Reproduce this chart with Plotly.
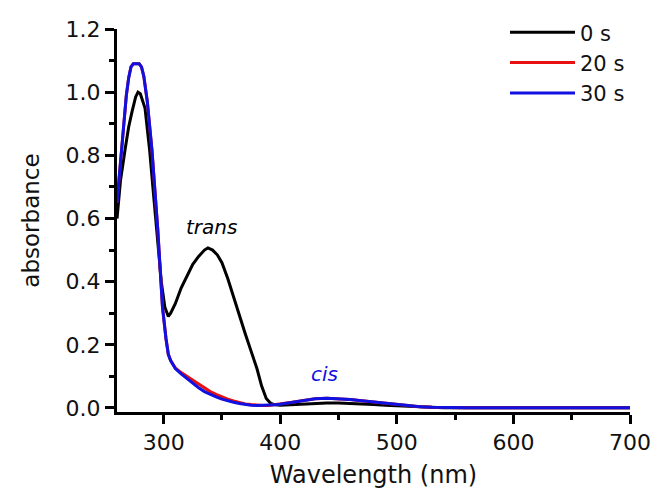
import plotly.graph_objects as go

# ---- data ----
wl_0s = [260, 263, 267, 270, 273, 276, 278, 280, 284, 288, 291, 294, 298, 301, 303, 304, 306, 310, 315,
         320, 325, 330, 335, 338, 342, 346, 350, 355, 360, 365, 370, 375, 380, 384, 388, 392, 396, 400,
         410, 420, 430, 440, 450, 460, 470, 480, 490, 500, 510, 520, 530, 540, 560, 600, 650, 700]
abs_0s = [0.60, 0.72, 0.82, 0.89, 0.94, 0.985, 1.00, 0.995, 0.95, 0.816, 0.69, 0.56, 0.40, 0.32, 0.295, 0.29,
          0.30, 0.33, 0.38, 0.42, 0.455, 0.48, 0.50, 0.507, 0.50, 0.485, 0.46, 0.41, 0.35, 0.29, 0.235,
          0.18, 0.125, 0.07, 0.03, 0.014, 0.01, 0.009, 0.011, 0.013, 0.015, 0.016, 0.016, 0.015, 0.013,
          0.011, 0.009, 0.007, 0.005, 0.003, 0.002, 0.001, 0.001, 0.001, 0.001, 0.001]

wl_ir = [260, 265, 268, 270, 272, 274, 279, 281, 283, 286, 290, 295, 299, 302, 304, 306, 310, 315, 320, 325,
         330, 335, 340, 345, 350, 355, 360, 365, 370, 375, 380, 385, 390, 395, 400, 410, 420, 430,
         440, 450, 460, 470, 480, 490, 500, 510, 520, 530, 540, 560, 600, 650, 700]
abs_20s = [0.65, 0.87, 0.99, 1.045, 1.08, 1.09, 1.09, 1.08, 1.05, 0.97, 0.816, 0.563, 0.32, 0.22, 0.17, 0.15,
           0.127, 0.112, 0.10, 0.087, 0.074, 0.062, 0.052, 0.043, 0.035, 0.028, 0.022, 0.017, 0.013, 0.011,
           0.009, 0.008, 0.008, 0.01, 0.012, 0.018, 0.024, 0.029, 0.031, 0.03, 0.027, 0.023, 0.019,
           0.014, 0.01, 0.007, 0.004, 0.002, 0.001, 0.001, 0.001, 0.001, 0.001]
abs_30s = [0.65, 0.87, 0.99, 1.045, 1.08, 1.09, 1.09, 1.08, 1.05, 0.97, 0.816, 0.563, 0.32, 0.22, 0.17, 0.15,
           0.125, 0.108, 0.093, 0.078, 0.064, 0.052, 0.043, 0.035, 0.028, 0.022, 0.018, 0.014, 0.011, 0.009,
           0.008, 0.008, 0.008, 0.01, 0.012, 0.018, 0.024, 0.029, 0.031, 0.03, 0.027, 0.023, 0.019,
           0.014, 0.01, 0.007, 0.004, 0.002, 0.001, 0.001, 0.001, 0.001, 0.001]

series_names = ["0 s", "20 s", "30 s"]
series_colors = ["#000000", "#e81010", "#1010e0"]

x_ticks = [300, 400, 500, 600, 700]
y_ticks = [0.0, 0.2, 0.4, 0.6, 0.8, 1.0, 1.2]
y_ticklabels = ["0.0", "0.2", "0.4", "0.6", "0.8", "1.0", "1.2"]

FONT = "DejaVu Sans"

fig = go.Figure()
for i, (x, y) in enumerate([(wl_0s, abs_0s), (wl_ir, abs_20s), (wl_ir, abs_30s)]):
    fig.add_trace(go.Scatter(
        x=x, y=y, mode="lines", name=series_names[i],
        line=dict(color=series_colors[i], width=3, shape="linear"),
    ))

fig.add_annotation(x=341, y=0.573, text="<i>trans</i>", showarrow=False,
                   font=dict(family=FONT, size=20, color="black"))
fig.add_annotation(x=438, y=0.108, text="<i>cis</i>", showarrow=False,
                   font=dict(family=FONT, size=20, color="#1010e0"))

axis_common = dict(
    showline=True, linewidth=3, linecolor="black", mirror=False,
    ticks="outside", ticklen=9, tickwidth=2.5, tickcolor="black",
    showgrid=False, zeroline=False, automargin=False,
    tickfont=dict(family=FONT, size=22, color="#111111"),
)

fig.update_layout(
    width=657, height=497,
    margin=dict(l=117, r=27, t=29, b=85),
    paper_bgcolor="white", plot_bgcolor="white",
    xaxis=dict(
        range=[260, 700], tickvals=x_ticks,
        minor=dict(ticks="outside", dtick=50, tick0=300, ticklen=5, tickwidth=2.5, tickcolor="black"),
        title=dict(text="Wavelength (nm)", font=dict(family=FONT, size=24, color="#111111"), standoff=12),
        **axis_common,
    ),
    yaxis=dict(
        range=[-0.0127, 1.2], tickvals=y_ticks, ticktext=y_ticklabels,
        minor=dict(ticks="outside", dtick=0.1, tick0=0, ticklen=5, tickwidth=2.5, tickcolor="black"),
        title=dict(text="absorbance", font=dict(family=FONT, size=23, color="#111111"), standoff=20),
        **axis_common,
    ),
    legend=dict(
        x=1.0, y=1.044, xanchor="right", yanchor="top",
        font=dict(family=FONT, size=21, color="#111111"),
        bgcolor="rgba(0,0,0,0)", itemwidth=65, tracegroupgap=0,
    ),
    showlegend=True,
)

fig.write_html("out.html")
